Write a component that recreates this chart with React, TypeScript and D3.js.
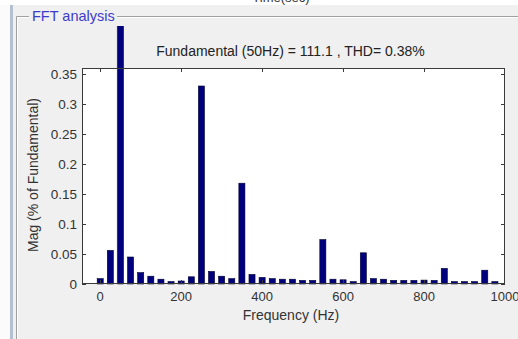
import { FC, useEffect, useRef } from 'react';
import * as d3 from 'd3';

// Harmonic frequencies (Hz) and magnitudes (% of fundamental)
const frequencies = d3.range(0, 1000, 25);
const magnitudes = [
  0.009, 0.056, 100, 0.045, 0.019, 0.013, 0.008, 0.004, 0.005, 0.012,
  0.33, 0.021, 0.013, 0.009, 0.168, 0.016, 0.011, 0.009, 0.008, 0.008,
  0.006, 0.006, 0.074, 0.008, 0.007, 0.004, 0.052, 0.009, 0.008, 0.006,
  0.006, 0.006, 0.0065, 0.006, 0.026, 0.004, 0.004, 0.004, 0.023, 0.004
];
const xTicks = [0, 200, 400, 600, 800, 1000];
const yTicks = [0, 0.05, 0.1, 0.15, 0.2, 0.25, 0.3, 0.35];

const titleText = 'Fundamental (50Hz) = 111.1 , THD= 0.38%';

const WIDTH = 518;
const HEIGHT = 339;

const FftChart: FC = () => {
  const svgRef = useRef<SVGSVGElement>(null);

  useEffect(() => {
    if (!svgRef.current) return;
    d3.select(svgRef.current).selectAll('*').remove();

    const svg = d3.select(svgRef.current)
        .attr('width', WIDTH)
        .attr('height', HEIGHT)
        .style('font-family', 'Arial, "Liberation Sans", sans-serif');

    // window background
    svg.append('rect').attr('width', WIDTH).attr('height', HEIGHT).attr('fill', '#f0f0f0');
    svg.append('rect').attr('width', WIDTH).attr('height', 5).attr('fill', '#ffffff');
    svg.append('rect').attr('x', 0).attr('y', 5).attr('width', 10).attr('height', HEIGHT).attr('fill', '#fbfbfb');
    svg.append('rect').attr('x', 10).attr('y', 5).attr('width', 3).attr('height', HEIGHT).attr('fill', '#b4c0d0');

    // cut-off label from the plot above
    svg.append('text')
        .attr('x', 281)
        .attr('y', 2)
        .attr('text-anchor', 'middle')
        .attr('fill', '#333')
        .attr('font-size', '13px')
        .text('Time(sec)');

    // group box frame (etched)
    const frame = svg.append('g');
    frame.append('path')
        .attr('d', `M16.5,${HEIGHT} V16.5 H29 M117,16.5 H${WIDTH}`)
        .attr('fill', 'none')
        .attr('stroke', '#a0a0a0');
    frame.append('path')
        .attr('d', `M17.5,${HEIGHT} V17.5 H29 M117,17.5 H${WIDTH}`)
        .attr('fill', 'none')
        .attr('stroke', '#ffffff');
    svg.append('text')
        .attr('x', 32)
        .attr('y', 21)
        .attr('fill', '#3c3ccc')
        .attr('font-size', '14.5px')
        .text('FFT analysis');

    // axes
    const left = 82;
    const right = 505;
    const top = 68;
    const bottom = 284;

    const x = d3.scaleLinear().domain([-45, 1000]).range([left, right]);
    const y = d3.scaleLinear().domain([0, 0.36]).range([bottom, top]);

    svg.append('rect')
        .attr('x', left)
        .attr('y', top)
        .attr('width', right - left)
        .attr('height', bottom - top)
        .attr('fill', '#ffffff');

    svg.append('defs').append('clipPath')
        .attr('id', 'bar-clip')
        .append('rect')
        .attr('x', 0)
        .attr('y', 26)
        .attr('width', WIDTH)
        .attr('height', HEIGHT);

    const barWidth = (x(25) - x(0)) * 0.6;

    svg.append('g')
        .attr('clip-path', 'url(#bar-clip)')
        .selectAll('rect')
        .data(frequencies)
        .join('rect')
        .attr('x', (f) => x(f) - barWidth / 2)
        .attr('y', (_, i) => y(magnitudes[i]))
        .attr('width', barWidth)
        .attr('height', (_, i) => bottom - y(magnitudes[i]))
        .attr('fill', '#00007c')
        .attr('stroke', '#000030')
        .attr('stroke-width', 0.6);

    // box + ticks on all sides
    const axisColor = '#3a3a3a';
    svg.append('rect')
        .attr('x', left + 0.5)
        .attr('y', top + 0.5)
        .attr('width', right - left - 1)
        .attr('height', bottom - top - 1)
        .attr('fill', 'none')
        .attr('stroke', axisColor);

    const tickLen = 4;
    xTicks.forEach((t) => {
      const px = Math.round(x(t)) + 0.5;
      if (px > right) return;
      svg.append('line').attr('x1', px).attr('x2', px).attr('y1', bottom).attr('y2', bottom - tickLen).attr('stroke', axisColor);
      svg.append('line').attr('x1', px).attr('x2', px).attr('y1', top).attr('y2', top + tickLen).attr('stroke', axisColor);
    });
    yTicks.forEach((t) => {
      const py = Math.round(y(t)) + 0.5;
      svg.append('line').attr('x1', left).attr('x2', left + tickLen).attr('y1', py).attr('y2', py).attr('stroke', axisColor);
      svg.append('line').attr('x1', right).attr('x2', right - tickLen).attr('y1', py).attr('y2', py).attr('stroke', axisColor);
    });

    // tick labels
    svg.append('g')
        .selectAll('text')
        .data(xTicks)
        .join('text')
        .attr('x', (t) => x(t))
        .attr('y', bottom + 17)
        .attr('text-anchor', 'middle')
        .attr('fill', '#333')
        .attr('font-size', '13px')
        .text((t) => String(t));

    svg.append('g')
        .selectAll('text')
        .data(yTicks)
        .join('text')
        .attr('x', left - 5)
        .attr('y', (t) => y(t) + 4.5)
        .attr('text-anchor', 'end')
        .attr('fill', '#333')
        .attr('font-size', '13.5px')
        .text((t) => String(t));

    // title and axis labels
    svg.append('text')
        .attr('x', (left + right) / 2 - 3)
        .attr('y', 56)
        .attr('text-anchor', 'middle')
        .attr('fill', '#222')
        .attr('font-size', '14px')
        .text(titleText);

    svg.append('text')
        .attr('x', 291)
        .attr('y', 320)
        .attr('text-anchor', 'middle')
        .attr('fill', '#333')
        .attr('font-size', '14px')
        .text('Frequency (Hz)');

    svg.append('text')
        .attr('transform', `translate(38,175) rotate(-90)`)
        .attr('text-anchor', 'middle')
        .attr('fill', '#333')
        .attr('font-size', '14px')
        .text('Mag (% of Fundamental)');
  }, []);

  return <svg ref={svgRef} style={{ display: 'block' }} />;
};

export default function App() {
  return (
      <div style={{ position: 'absolute', left: 0, top: 0 }}>
        <FftChart />
      </div>
  );
}
